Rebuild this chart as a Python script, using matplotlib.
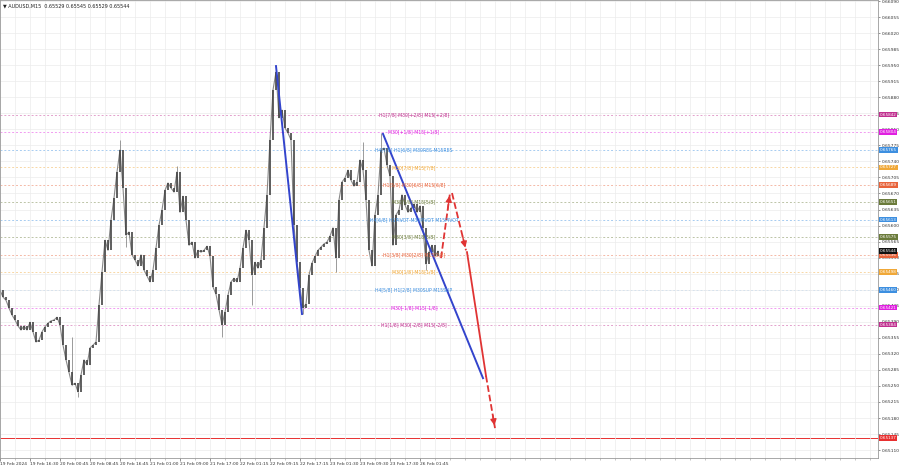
import numpy as np
import matplotlib
matplotlib.use('Agg')
import matplotlib.pyplot as plt

# Price samples, one every 3 slots of the time axis
closes = [0.65459, 0.65444, 0.65437, 0.65420, 0.65405, 0.65394, 0.65381, 0.65372, 0.65381, 0.65372,
          0.65389, 0.65368, 0.65346, 0.65350, 0.65368, 0.65379, 0.65387, 0.65392, 0.65394, 0.65400,
          0.65383, 0.65339, 0.65307, 0.65280, 0.65252, 0.65256, 0.65237, 0.65274, 0.65307, 0.65296,
          0.65333, 0.65339, 0.65346, 0.65427, 0.65499, 0.65568, 0.65546, 0.65612, 0.65660, 0.65717,
          0.65765, 0.65682, 0.65579, 0.65586, 0.65536, 0.65525, 0.65512, 0.65536, 0.65503, 0.65490,
          0.65477, 0.65503, 0.65551, 0.65601, 0.65634, 0.65677, 0.65693, 0.65682, 0.65673, 0.65717,
          0.65629, 0.65664, 0.65612, 0.65557, 0.65564, 0.65529, 0.65546, 0.65542, 0.65546, 0.65555,
          0.65533, 0.65466, 0.65450, 0.65416, 0.65383, 0.65411, 0.65448, 0.65477, 0.65485, 0.65477,
          0.65507, 0.65551, 0.65590, 0.65568, 0.65492, 0.65520, 0.65507, 0.65525, 0.65595, 0.65667,
          0.65787, 0.65896, 0.65935, 0.65835, 0.65852, 0.65813, 0.65802, 0.65787, 0.65601, 0.65520,
          0.65464, 0.65420, 0.65429, 0.65492, 0.65518, 0.65533, 0.65546, 0.65553, 0.65560, 0.65564,
          0.65577, 0.65595, 0.65529, 0.65656, 0.65695, 0.65704, 0.65721, 0.65699, 0.65686, 0.65695,
          0.65743, 0.65721, 0.65656, 0.65546, 0.65512, 0.65623, 0.65667, 0.65765, 0.65769, 0.65732,
          0.65708, 0.65557, 0.65623, 0.65634, 0.65667, 0.65645, 0.65629, 0.65638, 0.65647, 0.65629,
          0.65643, 0.65595, 0.65516, 0.65542, 0.65557, 0.65533, 0.65544]
step = 3

# long wicks (sample index -> price)
wick_idx = [24, 26, 40, 42, 59, 74, 84, 92, 101, 112, 121, 127, 142]
wick_px = [0.65357, 0.65226, 0.65787, 0.65553, 0.65730, 0.65357, 0.65427, 0.65948, 0.65407,
           0.65499, 0.65782, 0.65802, 0.65503]

# Murrey levels
levels = [0.65842, 0.65804, 0.65765, 0.65727, 0.65689, 0.65651, 0.65613, 0.65575, 0.65536,
          0.65498, 0.65460, 0.65421, 0.65384]
level_names = ['H1[7/8] M30[+2/8] M15[+2/8]', 'M30[+1/8] M15[+1/8]', 'H4[7/8] H1[6/8] M30RES M15RES',
               'M30[7/8] M15[7/8]', 'H1[5/8] M30[6/8] M15[6/8]', 'M30[5/8] M15[5/8]',
               'H4[6/8] H1PIVOT M30PIVOT M15PIVOT', 'M30[3/8] M15[3/8]', 'H1[3/8] M30[2/8] M15[2/8]',
               'M30[1/8] M15[1/8]', 'H4[5/8] H1[2/8] M30SUP M15SUP', 'M30[-1/8] M15[-1/8]',
               'H1[1/8] M30[-2/8] M15[-2/8]']
level_colors = ['#c0308f', '#e020e0', '#3d8fe0', '#f0a838', '#e8643c', '#6b7b3b', '#3d8fe0',
                '#6b7b3b', '#e8643c', '#f0a838', '#3d8fe0', '#e020e0', '#c0308f']
target = 0.65137
last_price = 0.65544

# trend lines and forecast path (time slot, price)
trend1_t = [276, 302]
trend1_p = [0.65948, 0.65407]
trend2_t = [383, 483]
trend2_p = [0.65800, 0.65267]
fc_t = [441, 450, 452, 466, 467, 486, 486, 495]
fc_p = [0.65529, 0.65671, 0.65671, 0.65546, 0.65542, 0.65272, 0.65272, 0.65158]

xtick_pos = [0, 30, 60, 90, 120, 150, 180, 210, 240, 270, 300, 330, 360, 390, 420]
xtick_lab = ['19 Feb 2024', '19 Feb 16:30', '20 Feb 00:45', '20 Feb 08:45', '20 Feb 16:45',
             '21 Feb 01:00', '21 Feb 09:00', '21 Feb 17:00', '22 Feb 01:15', '22 Feb 09:15',
             '22 Feb 17:15', '23 Feb 01:30', '23 Feb 09:30', '23 Feb 17:30', '26 Feb 01:45']

fs = 3.2

fig = plt.figure(figsize=(9, 4.68), dpi=100)
ax = fig.add_axes([0.0, 10 / 468, 878 / 900, 458 / 468])
ax.set_xlim(0, 878)
ax.set_ylim(0.650928, 0.660922)

# grid
yt = np.arange(0.65110, 0.66091, 0.00035)
ax.set_yticks(yt)
ax.set_xticks(xtick_pos)
ax.set_xticks(np.arange(0, 878, 15), minor=True)
ax.grid(True, which='both', color='#ececec', lw=0.5, zorder=0)

# levels
for lv, nm, c in zip(levels, level_names, level_colors):
    ax.axhline(lv, color=c, lw=0.7, ls=(0, (2, 2)), alpha=0.45, zorder=1)
    ax.text(414, lv, nm, color=c, fontsize=fs + 0.1, ha='center', va='center', zorder=6)
    ax.text(1.002, lv, '%.5f' % lv, transform=ax.get_yaxis_transform(), color='white',
            fontsize=fs - 0.2, ha='left', va='center', zorder=7, clip_on=False,
            bbox=dict(boxstyle='square,pad=0.2', fc=c, ec='none'))
ax.axhline(target, color='#e83030', lw=0.7, zorder=1)
ax.text(1.002, target, '%.5f' % target, transform=ax.get_yaxis_transform(), color='white',
        fontsize=fs - 0.2, ha='left', va='center', zorder=7, clip_on=False,
        bbox=dict(boxstyle='square,pad=0.2', fc='#e83030', ec='none'))
ax.text(1.002, last_price, '%.5f' % last_price, transform=ax.get_yaxis_transform(), color='white',
        fontsize=fs - 0.2, ha='left', va='center', zorder=8, clip_on=False,
        bbox=dict(boxstyle='square,pad=0.2', fc='#111111', ec='none'))

# candles
t = np.arange(len(closes)) * step
c = np.array(closes)
o = np.concatenate([[c[0]], c[:-1]])
ax.plot(t, c, color='#888888', lw=0.8, zorder=2)
ax.vlines(t, np.minimum(o, c), np.maximum(o, c), color='#444444', lw=1.2, zorder=3)
ax.vlines(t[wick_idx], c[wick_idx], wick_px, color='#8a8a8a', lw=0.6, zorder=2)

# trend lines
ax.plot(trend1_t, trend1_p, color='#3344cc', lw=1.4, zorder=4)
ax.plot(trend2_t, trend2_p, color='#3344cc', lw=1.4, zorder=4)

# forecast
red = '#e03434'
styles = ['--', None, '--', None, '-', None, '--']
for i in range(0, 7, 2):
    ax.plot(fc_t[i:i + 2], fc_p[i:i + 2], color=red, lw=1.3, ls=styles[i], zorder=5)
for i in [1, 3, 7]:
    ax.annotate('', xy=(fc_t[i], fc_p[i]),
                xytext=(fc_t[i] - (fc_t[i] - fc_t[i - 1]) * 0.3, fc_p[i] - (fc_p[i] - fc_p[i - 1]) * 0.3),
                arrowprops=dict(arrowstyle='-|>,head_length=0.35,head_width=0.18', color=red, lw=1.0),
                zorder=5)

# axes styling
ax.yaxis.tick_right()
ax.set_yticklabels(['%.5f' % v for v in yt])
ax.set_xticklabels(xtick_lab)
ax.tick_params(axis='y', labelsize=fs, length=1.5, width=0.5, colors='#666666', pad=1)
ax.tick_params(axis='x', which='major', labelsize=fs, length=2, width=0.5, colors='#666666', pad=1)
ax.tick_params(axis='x', which='minor', length=1.5, width=0.4, colors='#999999')
for lbl in ax.get_xticklabels():
    lbl.set_ha('left')
for lbl in ax.get_yticklabels() + ax.get_xticklabels():
    lbl.set_color('#333333')
for s in ax.spines.values():
    s.set_color('#9a9a9a')
    s.set_linewidth(0.6)

ax.text(3, 0.66080, '\u25bc AUDUSD,M15  0.65529 0.65545 0.65529 0.65544', fontsize=fs + 0.3,
        color='#222222', ha='left', va='center', zorder=8)

fig.savefig('out.png', dpi=100)
